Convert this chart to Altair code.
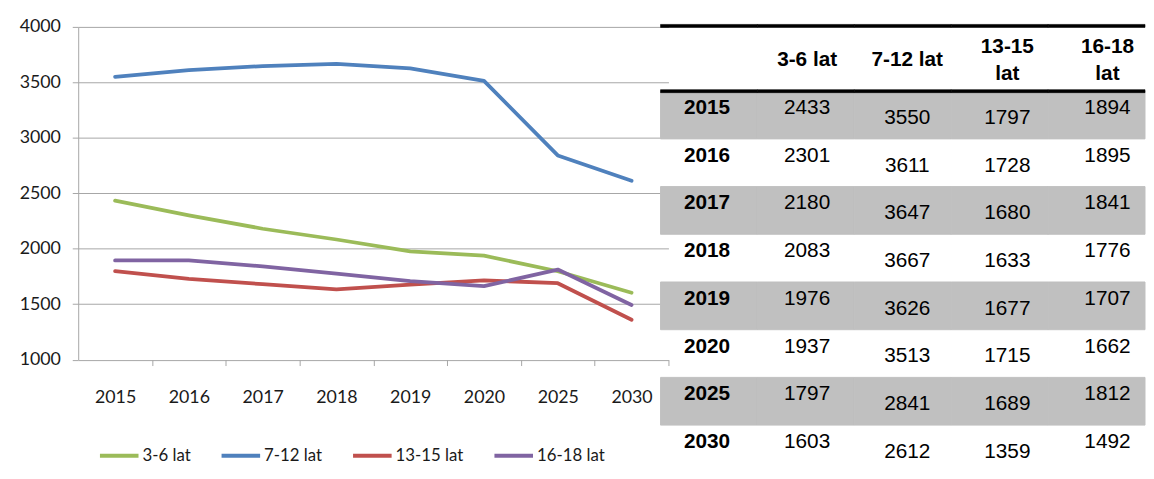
import altair as alt
import pandas as pd

# ---- data ----
years = ["2015", "2016", "2017", "2018", "2019", "2020", "2025", "2030"]
series = ["3-6 lat", "7-12 lat", "13-15 lat", "16-18 lat"]
v_3_6 = [2433, 2301, 2180, 2083, 1976, 1937, 1797, 1603]
v_7_12 = [3550, 3611, 3647, 3667, 3626, 3513, 2841, 2612]
v_13_15 = [1797, 1728, 1680, 1633, 1677, 1715, 1689, 1359]
v_16_18 = [1894, 1895, 1841, 1776, 1707, 1662, 1812, 1492]
header_labels = ["3-6 lat", "7-12 lat", "13-15\nlat", "16-18\nlat"]
y_ticks = [1000, 1500, 2000, 2500, 3000, 3500, 4000]
colors = ["#9BBB59", "#4F81BD", "#C0504D", "#8064A2"]

values = {"3-6 lat": v_3_6, "7-12 lat": v_7_12, "13-15 lat": v_13_15, "16-18 lat": v_16_18}

long = pd.DataFrame(
    [{"year": y, "series": s, "value": values[s][i]} for s in series for i, y in enumerate(years)]
)

cols = ["rok"] + series
cells = []
for i, y in enumerate(years):
    cells.append({"year": y, "col": "rok", "text": y, "gray": i % 2 == 0, "grp": "year"})
    for s in series:
        grp = "lo" if s in ("7-12 lat", "13-15 lat") else "hi"
        cells.append({"year": y, "col": s, "text": str(values[s][i]), "gray": i % 2 == 0, "grp": grp})
cells = pd.DataFrame(cells)
hdr = pd.DataFrame({"col": series, "label": header_labels})
hdr["multi"] = hdr["label"].str.contains("\n")
lines_df = pd.DataFrame({"col": cols})

AXFONT = "Lato, Open Sans, sans-serif"
TFONT = "Liberation Sans, Arial, sans-serif"
GRID = "#a6a6a6"
LBL = "#1a1a1a"

# ---- line chart ----
line = alt.Chart(long).mark_line(strokeWidth=3.8, strokeJoin="round", strokeCap="round").encode(
    x=alt.X(
        "year:N",
        sort=years,
        scale=alt.Scale(type="band", domain=years, range=[0, 597], paddingInner=0, paddingOuter=0),
        axis=alt.Axis(
            title=None, labelAngle=0, grid=False, domain=False, tickBand="extent",
            tickSize=6, tickColor=GRID, labelPadding=23, labelFont=AXFONT, labelFontSize=18,
            labelColor=LBL,
            tickOpacity={"condition": {"test": "datum.extra", "value": 0}, "value": 1},
        ),
    ),
    y=alt.Y(
        "value:Q",
        scale=alt.Scale(domain=[1000, 4000], nice=False, zero=False),
        axis=alt.Axis(
            title=None, values=y_ticks, format="d", grid=True, gridColor=GRID, domainColor=GRID,
            tickColor=GRID, tickSize=6, labelPadding=12, labelFont=AXFONT, labelFontSize=18,
            labelColor=LBL,
        ),
    ),
    color=alt.Color(
        "series:N",
        sort=series,
        scale=alt.Scale(domain=series, range=colors),
        legend=alt.Legend(
            title=None, orient="none", direction="horizontal", legendX=20, legendY=412,
            symbolType="stroke", symbolSize=1521, symbolStrokeWidth=4, labelOffset=2,
            columnPadding=23, labelFont=AXFONT, labelFontSize=17, labelColor=LBL,
        ),
    ),
)

# ---- table ----
band_x = alt.Scale(type="band", domain=cols, range=[589, 1079], paddingInner=0, paddingOuter=0)
point_x = alt.Scale(type="point", domain=cols, range=[636, 1041], padding=0)
band_y = alt.Scale(type="band", domain=years, range=[65, 451], paddingInner=0, paddingOuter=0)

gray = alt.Chart(cells).transform_filter("datum.gray").mark_rect(
    color="#c0c0c0", stroke="#c0c0c0", strokeWidth=1
).encode(
    x=alt.X("col:N", scale=band_x, axis=None),
    y=alt.Y("year:N", scale=band_y, axis=None),
)

top_rule = alt.Chart(lines_df).mark_rect(color="black", stroke="black", strokeWidth=0.6).encode(
    x=alt.X("col:N", scale=band_x, axis=None),
    y=alt.value(-2.5),
    y2=alt.value(0.5),
)
mid_rule = alt.Chart(lines_df).mark_rect(color="black", stroke="black", strokeWidth=0.6).encode(
    x=alt.X("col:N", scale=band_x, axis=None),
    y=alt.value(63.5),
    y2=alt.value(66.5),
)

header_one = alt.Chart(hdr).transform_filter("!datum.multi").mark_text(
    font=TFONT, fontSize=21, fontWeight="bold", baseline="middle", align="center", color="black",
).encode(
    x=alt.X("col:N", scale=point_x, axis=None),
    y=alt.value(34),
    text="label:N",
)
header_two = alt.Chart(hdr).transform_filter("datum.multi").mark_text(
    font=TFONT, fontSize=21, fontWeight="bold", lineBreak="\n", lineHeight=28,
    baseline="middle", align="center", color="black",
).encode(
    x=alt.X("col:N", scale=point_x, axis=None),
    y=alt.value(20),
    text="label:N",
)

year_txt = alt.Chart(cells).transform_filter("datum.grp == 'year'").mark_text(
    font=TFONT, fontSize=21, fontWeight="bold", baseline="middle", align="center", dy=-7, color="black",
).encode(
    x=alt.X("col:N", scale=point_x, axis=None),
    y=alt.Y("year:N", scale=band_y, axis=None),
    text="text:N",
)
hi_txt = alt.Chart(cells).transform_filter("datum.grp == 'hi'").mark_text(
    font=TFONT, fontSize=21, baseline="middle", align="center", dy=-7, color="black",
).encode(
    x=alt.X("col:N", scale=point_x, axis=None),
    y=alt.Y("year:N", scale=band_y, axis=None),
    text="text:N",
)
lo_txt = alt.Chart(cells).transform_filter("datum.grp == 'lo'").mark_text(
    font=TFONT, fontSize=21, baseline="middle", align="center", dy=3, color="black",
).encode(
    x=alt.X("col:N", scale=point_x, axis=None),
    y=alt.Y("year:N", scale=band_y, axis=None),
    text="text:N",
)

chart = alt.layer(
    line, gray, top_rule, mid_rule, header_one, header_two, year_txt, hi_txt, lo_txt
).resolve_scale(x="independent", y="independent").properties(
    width=577, height=336.5,
    padding={"left": 11, "top": 7.5, "right": 0, "bottom": 0},
).configure_view(stroke=None)

chart.save("out.html", embed_options={"renderer": "svg", "actions": False})
